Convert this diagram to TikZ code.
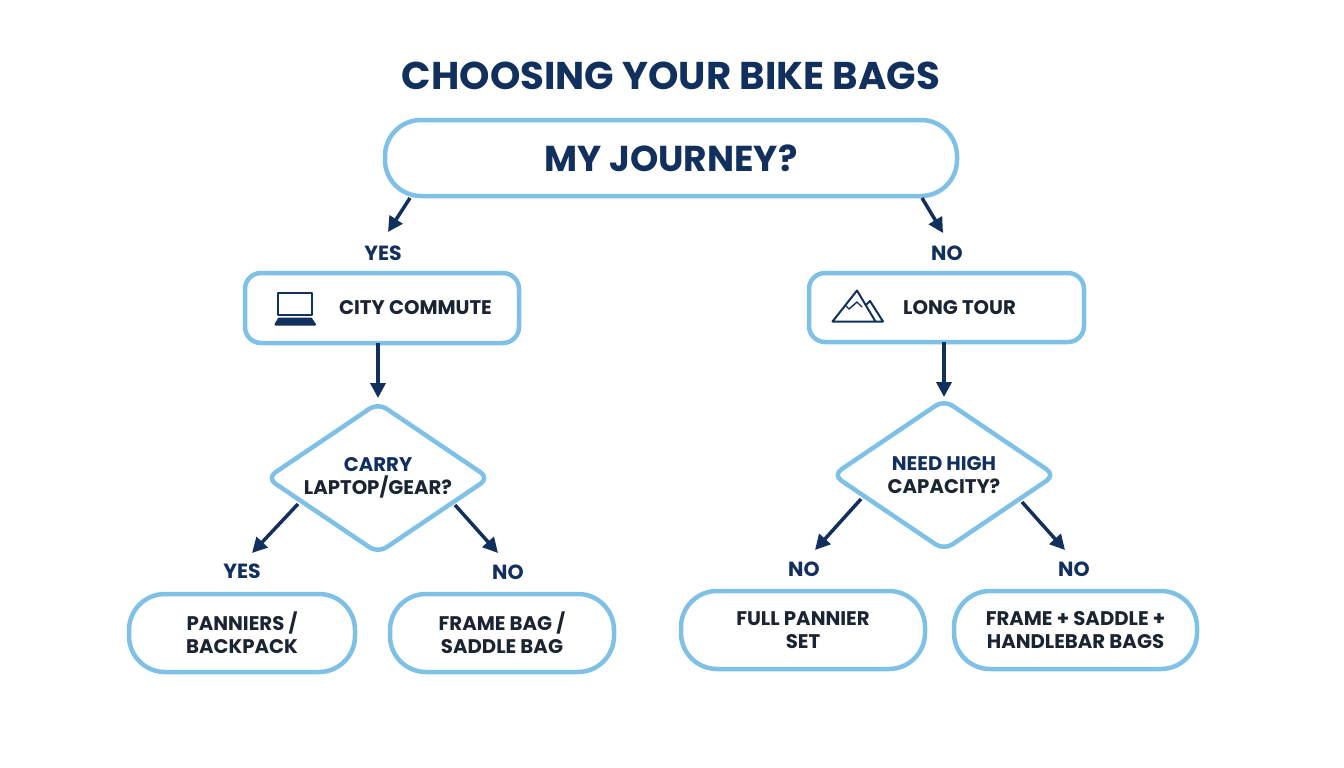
\documentclass[tikz,border=0pt]{standalone}
\usepackage{fontspec}
\setmainfont{Poppins}
\usetikzlibrary{shapes.geometric,arrows.meta,calc}
\definecolor{edge}{HTML}{7FC1E6}
\definecolor{navy}{HTML}{12305E}
\definecolor{ink}{HTML}{1B2431}
\tikzset{
  box/.style={draw=edge,line width=4.5pt,fill=white,inner sep=0pt,outer sep=0pt,align=center,font=\fontsize{19.7}{23}\selectfont\bfseries,text=ink},
  pill/.style={box,rounded corners=36pt},
  card/.style={box,rounded corners=16pt},
  choice/.style={draw=edge,line width=4.5pt,fill=white,shape=diamond,aspect=1.48,rounded corners=10pt,inner sep=0pt,outer sep=0pt,align=center,font=\fontsize{19.7}{23}\selectfont\bfseries,text=ink,minimum width=222pt,minimum height=150pt},
  lab/.style={font=\fontsize{20.5}{24}\selectfont\bfseries,text=navy,inner sep=0pt},
  conn/.style={draw=navy,line width=3.5pt,-{Triangle[length=15pt,width=15pt]}},
  icon/.style={draw=navy,line width=2pt,line join=round},
  cardtext/.style={inner sep=0pt,font=\fontsize{19.7}{23}\selectfont\bfseries,text=ink}
}
\begin{document}
\begin{tikzpicture}[x=1pt,y=-1pt]
\useasboundingbox (0,0) rectangle (1344,768);
\node[inner sep=0pt,text=navy,font=\fontsize{38.7}{44}\selectfont\bfseries] (title) at (671,76) {CHOOSING YOUR BIKE BAGS};
\node[pill,minimum width=572pt,minimum height=76pt,rounded corners=36pt,font=\fontsize{36}{40}\selectfont\bfseries,text=navy] (journey) at (671,158) {MY JOURNEY?};
\node[card,minimum width=274pt,minimum height=70pt] (city) at (382,308) {};
\node[card,minimum width=275pt,minimum height=69pt] (long) at (946.5,307.5) {};
\node[cardtext] (cityt) at (415.5,308) {CITY COMMUTE};
\node[cardtext] (longt) at (959.5,308) {LONG TOUR};
\node[choice] (d1) at (378,478) {{\color{navy}CARRY}\\LAPTOP/GEAR?};
\node[choice] (d2) at (944,475) {{\color{navy}NEED HIGH}\\CAPACITY?};
\node[pill,minimum width=226pt,minimum height=78pt] (p1) at (242,633) {PANNIERS /\\BACKPACK};
\node[pill,minimum width=224pt,minimum height=78pt] (p2) at (502,633) {FRAME BAG /\\SADDLE BAG};
\node[pill,minimum width=244pt,minimum height=78pt] (p3) at (803,630) {FULL PANNIER\\SET};
\node[pill,minimum width=243pt,minimum height=78pt] (p4) at (1075.5,630) {FRAME + SADDLE +\\HANDLEBAR BAGS};
\node[lab] (y1) at (383,253) {YES};
\node[lab] (n1) at (947,253) {NO};
\node[lab] (y2) at (242,571) {YES};
\node[lab] (n2) at (508,572) {NO};
\node[lab] (n3) at (804,569) {NO};
\node[lab] (n4) at (1074,569) {NO};
\coordinate (e1) at (388,232);
\coordinate (e2) at (943,233);
\coordinate (e3) at (378,398);
\coordinate (e4) at (944,397);
\coordinate (e5) at (252,553);
\coordinate (e6) at (498,553);
\coordinate (e7) at (815,550);
\coordinate (e8) at (1065,550);
\draw[conn] ($(journey.south west)+(25,2)$) -- (e1);
\draw[conn] ($(journey.south east)+(-35,2)$) -- (e2);
\draw[conn] (city.south -| e3) -- (e3);
\draw[conn] (long.south -| e4) -- (e4);
\draw[conn] ($(d1.center)+(-80,26)$) -- (e5);
\draw[conn] ($(d1.center)+(77,27)$) -- (e6);
\draw[conn] ($(d2.center)+(-83,24)$) -- (e7);
\draw[conn] ($(d2.center)+(78,27)$) -- (e8);
% laptop icon
\draw[icon] (278,292.5) rectangle (312,315);
\draw[icon,fill=navy] (279,318.5) -- (311,318.5) -- (315,324.5) -- (275.5,324.5) -- cycle;
% mountain icon
\draw[icon] (832.5,321.5) -- (857,290.5) -- (875.5,321.5) -- cycle;
\draw[icon] (866,305) -- (870,301) -- (883,321.5) -- (875.5,321.5);
\draw[icon,line width=1.4pt] (845,305) -- (849,309) -- (857,302) -- (862,307);
\end{tikzpicture}
\end{document}
